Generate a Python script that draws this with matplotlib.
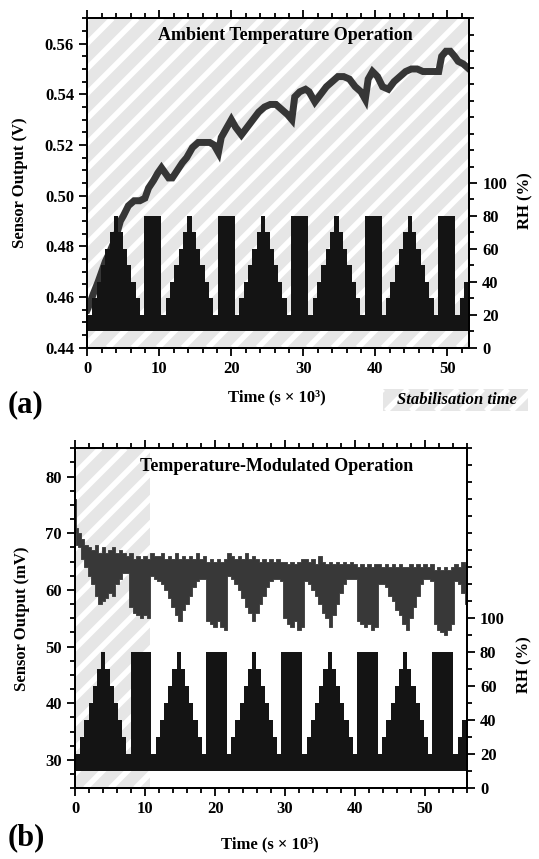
import matplotlib
matplotlib.use("Agg")
import numpy as np
import matplotlib.pyplot as plt
from matplotlib.patches import Rectangle
from matplotlib.lines import Line2D
from matplotlib.ticker import MultipleLocator

plt.rcParams["font.family"] = ["Liberation Serif", "DejaVu Serif"]
plt.rcParams["font.weight"] = "bold"
plt.rcParams["axes.labelweight"] = "bold"

# ---------------- data ----------------
# (a) ambient temperature: sensor output centre line (V)
t_a = [0, 0.3, 0.8, 1.5, 2.0, 2.5, 3.0, 3.6, 4.2, 4.6,
       5.0, 5.7, 6.5, 7.3, 8.0, 8.5, 9.2, 9.8, 10.3, 10.8,
       11.3, 11.8, 12.5, 13.2, 13.8, 14.6, 15.4, 16.2, 17.0, 17.6,
       18.2, 18.6, 19.2, 20.0, 20.6, 21.4, 22.2, 23.0, 23.8, 24.6,
       25.4, 26.2, 27.0, 27.8, 28.4, 28.8, 29.5, 30.3, 30.8, 31.6,
       32.4, 33.2, 34.0, 34.8, 35.6, 36.4, 37.2, 38.0, 38.6, 39.0,
       39.6, 40.3, 41.0, 41.8, 42.6, 43.4, 44.2, 45.0, 45.8, 46.6,
       47.4, 48.2, 48.8, 49.2, 49.8, 50.4, 51.0, 51.5, 52.2, 53.0]
v_a = [0.455, 0.457, 0.461, 0.466, 0.470, 0.474, 0.477, 0.481, 0.486, 0.490,
       0.492, 0.496, 0.498, 0.498, 0.499, 0.503, 0.506, 0.509, 0.511, 0.509,
       0.507, 0.507, 0.510, 0.513, 0.515, 0.519, 0.521, 0.521, 0.521, 0.520,
       0.517, 0.523, 0.526, 0.530, 0.527, 0.524, 0.527, 0.530, 0.533, 0.535,
       0.536, 0.536, 0.534, 0.532, 0.530, 0.539, 0.541, 0.542, 0.541, 0.537,
       0.540, 0.543, 0.545, 0.547, 0.547, 0.546, 0.543, 0.541, 0.538, 0.546,
       0.549, 0.547, 0.543, 0.542, 0.545, 0.547, 0.549, 0.550, 0.550, 0.549,
       0.549, 0.549, 0.549, 0.555, 0.557, 0.557, 0.555, 0.553, 0.552, 0.550]

# (b) temperature modulated: upper / lower envelope of sensor output (mV)
t_b = [0, 0.25, 0.5, 1, 1.5, 2, 2.5, 3, 3.5, 4,
       4.5, 5, 5.5, 6, 6.5, 7, 7.5, 8, 8.5, 9,
       9.5, 10, 10.5, 11, 11.5, 12, 12.5, 13, 13.5, 14,
       14.5, 15, 15.5, 16, 16.5, 17, 17.5, 18, 18.5, 19,
       19.5, 20, 20.5, 21, 21.5, 22, 22.5, 23, 23.5, 24,
       24.5, 25, 25.5, 26, 26.5, 27, 27.5, 28, 28.5, 29,
       29.5, 30, 30.5, 31, 31.5, 32, 32.5, 33, 33.5, 34,
       34.5, 35, 35.5, 36, 36.5, 37, 37.5, 38, 38.5, 39,
       39.5, 40, 40.5, 41, 41.5, 42, 42.5, 43, 43.5, 44,
       44.5, 45, 45.5, 46, 46.5, 47, 47.5, 48, 48.5, 49,
       49.5, 50, 50.5, 51, 51.5, 52, 52.5, 53, 53.5, 54,
       54.5, 55, 55.5, 56]
hi_b = [76, 71, 70, 69, 68, 67.5, 67, 68, 66.5, 67.5,
        66.5, 67, 67.5, 66.5, 67, 66.5, 66, 66.5, 65.5, 66,
        65.5, 66, 65.5, 66.5, 66, 66, 66.5, 65.5, 66, 65.5,
        66.5, 65.5, 66, 65.5, 66, 65.5, 66.5, 65.5, 66, 65,
        65.5, 65, 65.5, 65, 65.5, 66.5, 66, 65.5, 66, 65.5,
        66.5, 65.5, 66, 65.5, 65, 65.5, 65, 65.5, 65, 65.5,
        65, 65, 64.5, 65, 64.5, 65, 65.5, 65.5, 65, 65.5,
        64.5, 66, 65, 64.5, 65, 64.5, 65, 64.5, 65, 64.5,
        65, 64.5, 64, 64.5, 64, 64.5, 64, 64.5, 64.5, 64,
        64.5, 64, 64.5, 64, 64.5, 64, 64, 64.5, 64, 64.5,
        64, 64.5, 64, 64.5, 63.5, 64, 63.5, 64, 63.5, 64,
        64.5, 64, 65, 64.5]
lo_b = [70, 68, 67.5, 65.5, 64, 62.5, 61, 59, 57.5, 58,
        58.5, 59.5, 59, 61, 62, 63, 63, 57, 56, 55.5,
        55, 55.5, 55, 62.5, 62, 61.5, 61, 60, 58.5, 57,
        55.5, 54.5, 56.5, 57.5, 59, 60.5, 61.5, 62, 62, 54.5,
        54, 53.5, 54.5, 53.5, 53, 62.5, 62, 61, 60, 58.5,
        57, 56, 54.5, 56, 57.5, 59, 60.5, 61.5, 62, 62,
        61.5, 55, 54, 53.5, 54.5, 53, 53.5, 61.5, 61, 60,
        59, 57.5, 56, 55, 53.5, 55.5, 57.5, 59.5, 61, 62,
        62, 62, 54.5, 54, 53.5, 54, 53, 53.5, 61, 61,
        60.5, 59, 58, 56.5, 55.5, 54, 53, 55, 57, 59,
        61, 62, 62, 61.5, 54, 53, 52.5, 52, 53, 54,
        61.5, 61, 59.5, 57.5]

# RH protocol: one cycle of levels (%), repeated five times
rh_cycle = [20, 30, 40, 50, 60, 70, 80, 70, 60, 50, 40, 30, 20, 80]
rh_step = 0.6          # ks per RH level
rh_block_a = 2.4       # ks of 80 % block, panel (a)
rh_block_b = 3.0       # ks of 80 % block, panel (b)
rh_lead = 0.7          # first 20 % level
rh_base = 10           # purge level (%)

W, H = 539, 859
fig = plt.figure(figsize=(W / 100, H / 100), dpi=100)
ax_a = fig.add_axes([87.3 / W, 1 - 347.7 / H, 381.7 / W, 329.4 / H])
ax_b = fig.add_axes([75.3 / W, 1 - 788.3 / H, 391.4 / W, 340.0 / H])

GREY = "#e6e6e6"


def stripes(ax, x0, x1):
    rect = Rectangle((x0, 0), x1 - x0, 1, transform=ax.get_xaxis_transform(),
                     facecolor=GREY, edgecolor="none", zorder=0.1)
    ax.add_patch(rect)
    bb = ax.get_position()
    px0, px1, py0, py1 = bb.x0 * W, bb.x1 * W, bb.y0 * H, bb.y1 * H
    h = py1 - py0
    k = px0 - h
    while k < px1:
        ln = Line2D([k / W, (k + h) / W], [py0 / H, py1 / H], transform=fig.transFigure,
                    color="white", lw=4.0, solid_capstyle="butt", zorder=0.2)
        ln.set_clip_path(rect)
        ax.add_artist(ln)
        k += 25


def rh_steps(block, n_cycles, tail):
    levels, durs = [], []
    for _ in range(n_cycles):
        levels += rh_cycle
        durs += [rh_step] * 13 + [block]
    levels += tail
    durs += [rh_step] * len(tail)
    durs[0] = rh_lead
    edges = np.concatenate([[0], np.cumsum(durs)])
    return edges, levels + [levels[-1]]


def style(ax, ax2, xmax, ylo, yhi, ymaj, ymin):
    ax.set_xlim(0, xmax)
    ax.set_ylim(ylo, yhi)
    ax.xaxis.set_major_locator(MultipleLocator(10))
    ax.xaxis.set_minor_locator(MultipleLocator(2))
    ax.yaxis.set_major_locator(MultipleLocator(ymaj))
    ax.yaxis.set_minor_locator(MultipleLocator(ymin))
    ax.tick_params(which="both", direction="out", width=1.3, labelsize=12,
                   top=True, right=False)
    ax.tick_params(which="major", length=6)
    ax.tick_params(which="minor", length=3.5)
    ax2.set_ylim(0, 200)
    ax2.set_yticks([0, 20, 40, 60, 80, 100])
    ax2.set_yticks([10, 30, 50, 70, 90] + list(range(110, 201, 10)), minor=True)
    ax2.tick_params(which="both", direction="out", width=1.3, labelsize=12)
    ax2.tick_params(which="major", length=6)
    ax2.tick_params(which="minor", length=3.5)
    for a in (ax, ax2):
        for s in a.spines.values():
            s.set_linewidth(1.4)


# ---------------- panel (a) ----------------
stripes(ax_a, 0, 53)
ax_a.plot(t_a, v_a, color="#363636", lw=5, zorder=2, solid_joinstyle="miter")
ax2_a = ax_a.twinx()
e, lv = rh_steps(rh_block_a, 5, [20, 30, 40, 50])
ax2_a.fill_between(e, rh_base, lv, step="post", color="#141414", lw=0)
style(ax_a, ax2_a, 53, 0.44, 0.57, 0.02, 0.005)
ax_a.set_yticklabels([f"{x:.2f}" for x in ax_a.get_yticks()])
ax_a.set_ylim(0.44, 0.57)
ax_a.set_ylabel("Sensor Output (V)", fontsize=12)
ax_a.yaxis.set_label_coords(-0.155, 0.5)
ax_a.set_xlabel("Time (s × 10³)", fontsize=12)
ax_a.xaxis.set_label_coords(0.497, -0.128)
ax2_a.set_ylabel("RH (%)", fontsize=12)
ax2_a.yaxis.set_label_coords(1.126, 0.448)
ax_a.text(0.519, 0.949, "Ambient Temperature Operation", transform=ax_a.transAxes,
          ha="center", va="center", fontsize=13, fontweight="bold")

# ---------------- panel (b) ----------------
stripes(ax_b, 0, 10.7)
ax_b.fill_between(t_b, lo_b, hi_b, step="mid", color="#383838", lw=0.6,
                  edgecolor="#383838", zorder=2)
ax2_b = ax_b.twinx()
e, lv = rh_steps(rh_block_b, 5, [20, 30, 40, 50])
ax2_b.fill_between(e, rh_base, lv, step="post", color="#141414", lw=0)
style(ax_b, ax2_b, 56, 25, 85, 10, 2.5)
ax_b.set_ylabel("Sensor Output (mV)", fontsize=12)
ax_b.yaxis.set_label_coords(-0.116, 0.5)
ax_b.set_xlabel("Time (s × 10³)", fontsize=12)
ax_b.xaxis.set_label_coords(0.497, -0.140)
ax2_b.set_ylabel("RH (%)", fontsize=12)
ax2_b.yaxis.set_label_coords(1.128, 0.363)
ax_b.text(0.514, 0.945, "Temperature-Modulated Operation", transform=ax_b.transAxes,
          ha="center", va="center", fontsize=13, fontweight="bold")

# panel letters
fig.text(8 / W, 1 - 405 / H, "(a)", fontsize=22, fontweight="bold", va="center")
fig.text(8 / W, 1 - 838 / H, "(b)", fontsize=22, fontweight="bold", va="center")

# "Stabilisation time" key
lx0, lx1, ly0, ly1 = 383, 528, 389, 411
key = Rectangle((lx0 / W, 1 - ly1 / H), (lx1 - lx0) / W, (ly1 - ly0) / H,
                transform=fig.transFigure, facecolor=GREY, edgecolor="none")
fig.add_artist(key)
k = lx0 - (ly1 - ly0)
while k < lx1:
    ln = Line2D([k / W, (k + ly1 - ly0) / W], [1 - ly1 / H, 1 - ly0 / H],
                transform=fig.transFigure, color="white", lw=4.0, solid_capstyle="butt")
    ln.set_clip_path(key)
    fig.add_artist(ln)
    k += 25
fig.text(457 / W, 1 - 400 / H, "Stabilisation time", fontsize=12, fontweight="bold",
         style="italic", ha="center", va="center")

fig.savefig("out.png", dpi=100)
